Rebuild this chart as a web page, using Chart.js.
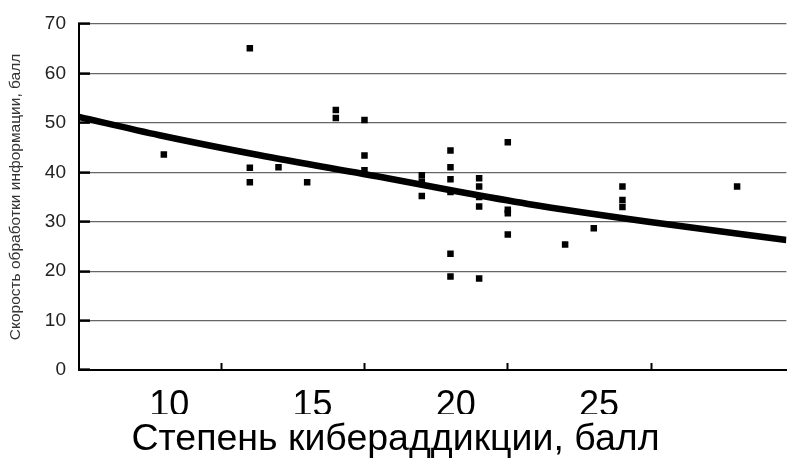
<!DOCTYPE html>
<html>
<head>
<meta charset="utf-8">
<script src="https://cdn.jsdelivr.net/npm/chart.js@4"></script>
<style>
  html, body { margin: 0; padding: 0; background: #fff; }
  #chart { display: block; }
</style>
</head>
<body>
<canvas id="chart" width="791" height="462"></canvas>
<script>
// scatter: cyberaddiction score vs information processing speed
const addictionScore = [
  8,
  11, 11, 11,
  12,
  13,
  14, 14,
  15, 15, 15,
  17, 17, 17,
  18, 18, 18, 18, 18, 18,
  19, 19, 19, 19, 19,
  20, 20, 20, 20,
  22,
  23,
  24, 24, 24,
  28
];
const processingSpeed = [
  43.6,
  65.1, 40.9, 38.0,
  41.0,
  38.0,
  52.6, 51.0,
  50.6, 43.4, 40.4,
  39.4, 38.1, 35.2,
  44.4, 41.0, 38.6, 36.0, 23.5, 18.9,
  38.8, 37.1, 35.0, 33.1, 18.5,
  46.1, 32.4, 31.7, 27.4,
  25.4,
  28.7,
  37.1, 34.4, 33.0,
  37.1
];

// trend curve
const trendX = [5.04, 7.85, 11.3, 15.8, 18.25, 20.7, 24.9, 29.72];
const trendY = [51.2, 47.5, 43.5, 38.8, 36.1, 33.6, 30.0, 26.3];

const xTicks = [10, 15, 20, 25];
const yTicks = [0, 10, 20, 30, 40, 50, 60, 70];

const xTitle = 'Степень кибераддикции, балл';
const yTitle = 'Скорость обработки информации, балл';

const points = addictionScore.map((x, i) => ({ x: x, y: processingSpeed[i] }));
const trend = trendX.map((x, i) => ({ x: x, y: trendY[i] }));

const ctx = document.getElementById('chart').getContext('2d');

new Chart(ctx, {
  type: 'scatter',
  data: {
    datasets: [
      {
        label: 'trend',
        data: trend,
        showLine: true,
        borderColor: '#000',
        borderWidth: 6.5,
        pointRadius: 0,
        cubicInterpolationMode: 'monotone',
        order: 2
      },
      {
        label: 'points',
        data: points,
        pointStyle: 'rect',
        pointRadius: 4.6,
        backgroundColor: '#000',
        borderColor: '#000',
        borderWidth: 0,
        order: 1
      }
    ]
  },
  options: {
    responsive: false,
    animation: false,
    layout: { padding: { top: 24, right: 0, left: 0, bottom: 0 } },
    plugins: {
      legend: { display: false },
      tooltip: { enabled: false },
      title: {
        display: true,
        text: xTitle,
        position: 'bottom',
        color: '#000',
        font: { family: 'Liberation Sans, Arial, sans-serif', size: 37.5, weight: 'normal', lineHeight: 1.2 },
        padding: { top: 3, bottom: 0 }
      }
    },
    scales: {
      x: {
        type: 'linear',
        min: 5.04,
        max: 29.72,
        afterBuildTicks: scale => { scale.ticks = xTicks.map(v => ({ value: v })); },
        afterFit: scale => { scale.height = 44; },
        border: { display: true, color: '#000', width: 2 },
        grid: {
          drawOnChartArea: false,
          drawTicks: true,
          tickLength: -7,
          tickColor: '#000',
          tickWidth: 2
        },
        ticks: {
          color: '#000',
          padding: 21,
          labelOffset: -52,
          maxRotation: 0,
          font: { family: 'Liberation Sans, Arial, sans-serif', size: 36, lineHeight: 1.2 }
        }
      },
      y: {
        type: 'linear',
        min: 0,
        max: 70,
        afterBuildTicks: scale => { scale.ticks = yTicks.map(v => ({ value: v })); },
        afterFit: scale => {
          // tick padding would otherwise push the plot area down
          scale.width = 79;
          scale.paddingTop = 10;
          scale.paddingBottom = 10;
        },
        border: { display: true, color: '#000', width: 2 },
        grid: {
          color: '#666',
          lineWidth: 1.2,
          drawTicks: true,
          tickLength: -11,
          tickColor: '#000',
          tickWidth: 2.5
        },
        ticks: {
          color: '#222',
          padding: 24,
          font: { family: 'Liberation Sans, Arial, sans-serif', size: 19 }
        },
        title: {
          display: true,
          text: yTitle,
          color: '#333',
          padding: { top: 6, bottom: 0 },
          font: { family: 'Liberation Sans Narrow, Liberation Sans, Arial, sans-serif', size: 15.5 }
        }
      }
    }
  }
});
</script>
</body>
</html>
